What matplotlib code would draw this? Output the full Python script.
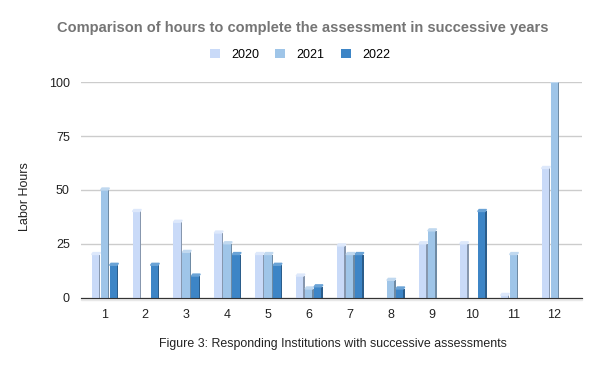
import numpy as np
import matplotlib.pyplot as plt
from matplotlib.patches import Polygon

plt.rcParams['font.family'] = ['Liberation Sans', 'DejaVu Sans']

institutions = [str(i) for i in range(1, 13)]
years = ['2020', '2021', '2022']
hours_2020 = [20, 40, 35, 30, 20, 10, 24, 0, 25, 25, 1, 60]
hours_2021 = [50, 0, 21, 25, 20, 4, 20, 8, 31, 0, 20, 100]
hours_2022 = [15, 15, 10, 20, 15, 5, 20, 4, 0, 40, 0, 0]

front_colors = ['#c9daf8', '#9fc5e8', '#3d85c6']
side_colors = ['#8797ae', '#6f8ba4', '#2b5d8b']
top_colors = ['#dde8fb', '#c0d8ef', '#6aa3d6']

fig = plt.figure(figsize=(6, 3.71), dpi=100)
ax = fig.add_axes([0.135, 0.198, 0.835, 0.58])

x = np.arange(1, len(institutions) + 1)
pitch = 0.22
w = 0.18
side = 0.035
lift = 0.9

for k, (vals, fc, sc, tc) in enumerate(zip([hours_2020, hours_2021, hours_2022],
                                           front_colors, side_colors, top_colors)):
    pos = x + (k - 1) * pitch
    ax.bar(pos, vals, width=w, color=fc, label=years[k], zorder=3)
    for p, v in zip(pos, vals):
        if v <= 0:
            continue
        ax.bar(p + w / 2 + side / 2, v, width=side, color=sc, zorder=3)
        ax.add_patch(Polygon([(p - w / 2, v), (p + w / 2, v),
                              (p + w / 2 + side, v + lift), (p - w / 2 + side, v + lift)],
                             closed=True, color=tc, zorder=3))

ax.set_xlim(0.43, 12.68)
ax.set_ylim(0, 100)
ax.set_yticks([0, 25, 50, 75, 100])
ax.set_xticks(x)
ax.set_xticklabels(institutions)
ax.yaxis.grid(True, color='#cccccc', linewidth=1, zorder=0)
ax.set_axisbelow(True)
for s in ['top', 'right', 'left']:
    ax.spines[s].set_visible(False)
ax.spines['bottom'].set_color('#333333')
ax.spines['bottom'].set_zorder(4)
ax.axhspan(-1.2, 0, color='#e8e8e8', zorder=1, clip_on=False)
ax.tick_params(axis='both', length=0, labelsize=9, colors='#222222')
ax.tick_params(axis='y', pad=8)
ax.tick_params(axis='x', pad=8)

fig.text(0.042, 0.469, 'Labor Hours', rotation=90, ha='center', va='center',
         fontsize=9, color='#222222')
fig.text(0.505, 0.925, 'Comparison of hours to complete the assessment in successive years',
         ha='center', va='center', fontsize=10.5, fontweight='bold', color='#757575')
fig.legend(loc='center', bbox_to_anchor=(0.5, 0.852), ncol=3, frameon=False,
           fontsize=9, handlelength=0.8, handleheight=0.8, columnspacing=1.3,
           handletextpad=0.9)
fig.text(0.555, 0.073, 'Figure 3: Responding Institutions with successive assessments',
         ha='center', va='center', fontsize=8.9, color='#222222')

fig.savefig('out.png', dpi=100)
